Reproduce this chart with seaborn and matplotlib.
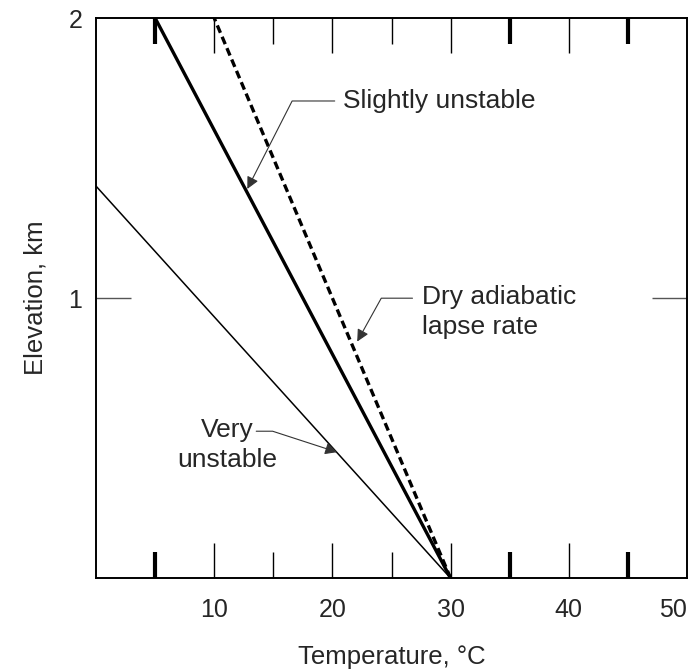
import matplotlib
matplotlib.use("Agg")
import matplotlib.pyplot as plt
import seaborn as sns
import pandas as pd

# Temperature profiles (deg C) vs elevation (km)
dry_temp = [30, 10]
dry_elev = [0, 2]
slight_temp = [30, 5]
slight_elev = [0, 2]
very_temp = [30, 0]
very_elev = [0, 1.4]

x_labels = [10, 20, 30, 40, 50]
y_labels = [1, 2]

sns.set_style("white")
plt.rcParams["font.family"] = ["Liberation Sans", "DejaVu Sans"]

fig = plt.figure(figsize=(6.96, 6.7), dpi=100)
ax = fig.add_axes([0.138, 0.137, 0.849, 0.836])

dry = pd.DataFrame({"temp": dry_temp, "elev": dry_elev})
slight = pd.DataFrame({"temp": slight_temp, "elev": slight_elev})
very = pd.DataFrame({"temp": very_temp, "elev": very_elev})

sns.lineplot(data=dry, x="temp", y="elev", ax=ax, color="black", lw=2.4, sort=False)
ax.lines[-1].set_dashes((2.4, 1.3))
sns.lineplot(data=slight, x="temp", y="elev", ax=ax, color="black", lw=2.4, sort=False)
sns.lineplot(data=very, x="temp", y="elev", ax=ax, color="black", lw=1.1, sort=False)

ax.set_xlim(0, 50)
ax.set_ylim(0, 2)

for s in ax.spines.values():
    s.set_linewidth(1.4)
    s.set_color("black")

# ticks
ax.set_xticks(x_labels)
ax.set_xticklabels([str(v) for v in x_labels])
ax.set_xticks([5, 15, 25, 35, 45], minor=True)
ax.set_yticks(y_labels)
ax.set_yticklabels([str(v) for v in y_labels])
ax.tick_params(axis="x", which="major", direction="in", length=25, width=1.0,
               top=True, bottom=True, labelsize=18, pad=14, color="black")
ax.tick_params(axis="x", which="minor", direction="in", length=19, width=1.0,
               top=True, bottom=True, color="black")
ax.tick_params(axis="y", which="major", direction="in", length=25, width=1.0,
               left=True, right=True, labelsize=18, pad=10, color="#555555")
# heavier minor ticks at 5, 35, 45
for i in (0, 3, 4):
    t = ax.xaxis.get_minor_ticks()[i]
    t.tick1line.set_markeredgewidth(3)
    t.tick2line.set_markeredgewidth(3)
# ticks that sit on the spines
for t in (ax.yaxis.get_major_ticks()[1], ax.xaxis.get_major_ticks()[4]):
    t.tick1line.set_visible(False)
    t.tick2line.set_visible(False)
# keep the last x label inside the figure
ax.get_xticklabels()[-1].set_horizontalalignment("right")

ax.set_xlabel("Temperature, °C", fontsize=18.5, labelpad=17)
ax.set_ylabel("Elevation, km", fontsize=18.5, labelpad=15)

arrow = dict(arrowstyle="-|>", color="#333333", lw=0.8, mutation_scale=18,
             shrinkB=0, patchA=None)

ax.annotate("Slightly unstable", xy=(12.8, 1.39), xytext=(20.9, 1.704),
            fontsize=19, va="center", ha="left",
            arrowprops=dict(arrow, relpos=(0, 0.5), shrinkA=6,
                            connectionstyle="angle,angleA=0,angleB=63,rad=0"))
ax.annotate("Dry adiabatic\nlapse rate", xy=(22.1, 0.845), xytext=(27.6, 0.95),
            fontsize=19, va="center", ha="left", linespacing=1.3,
            arrowprops=dict(arrow, relpos=(0, 0.76), shrinkA=7,
                            connectionstyle="angle,angleA=0,angleB=61,rad=0"))
ax.annotate("Very\nunstable", xy=(20.4, 0.45), xytext=(11.1, 0.475),
            fontsize=19, va="center", ha="center", linespacing=1.3,
            arrowprops=dict(arrow, relpos=(0.79, 0.76), shrinkA=0,
                            connectionstyle="angle,angleA=0,angleB=-18,rad=0"))

fig.savefig("out.png", dpi=100)
